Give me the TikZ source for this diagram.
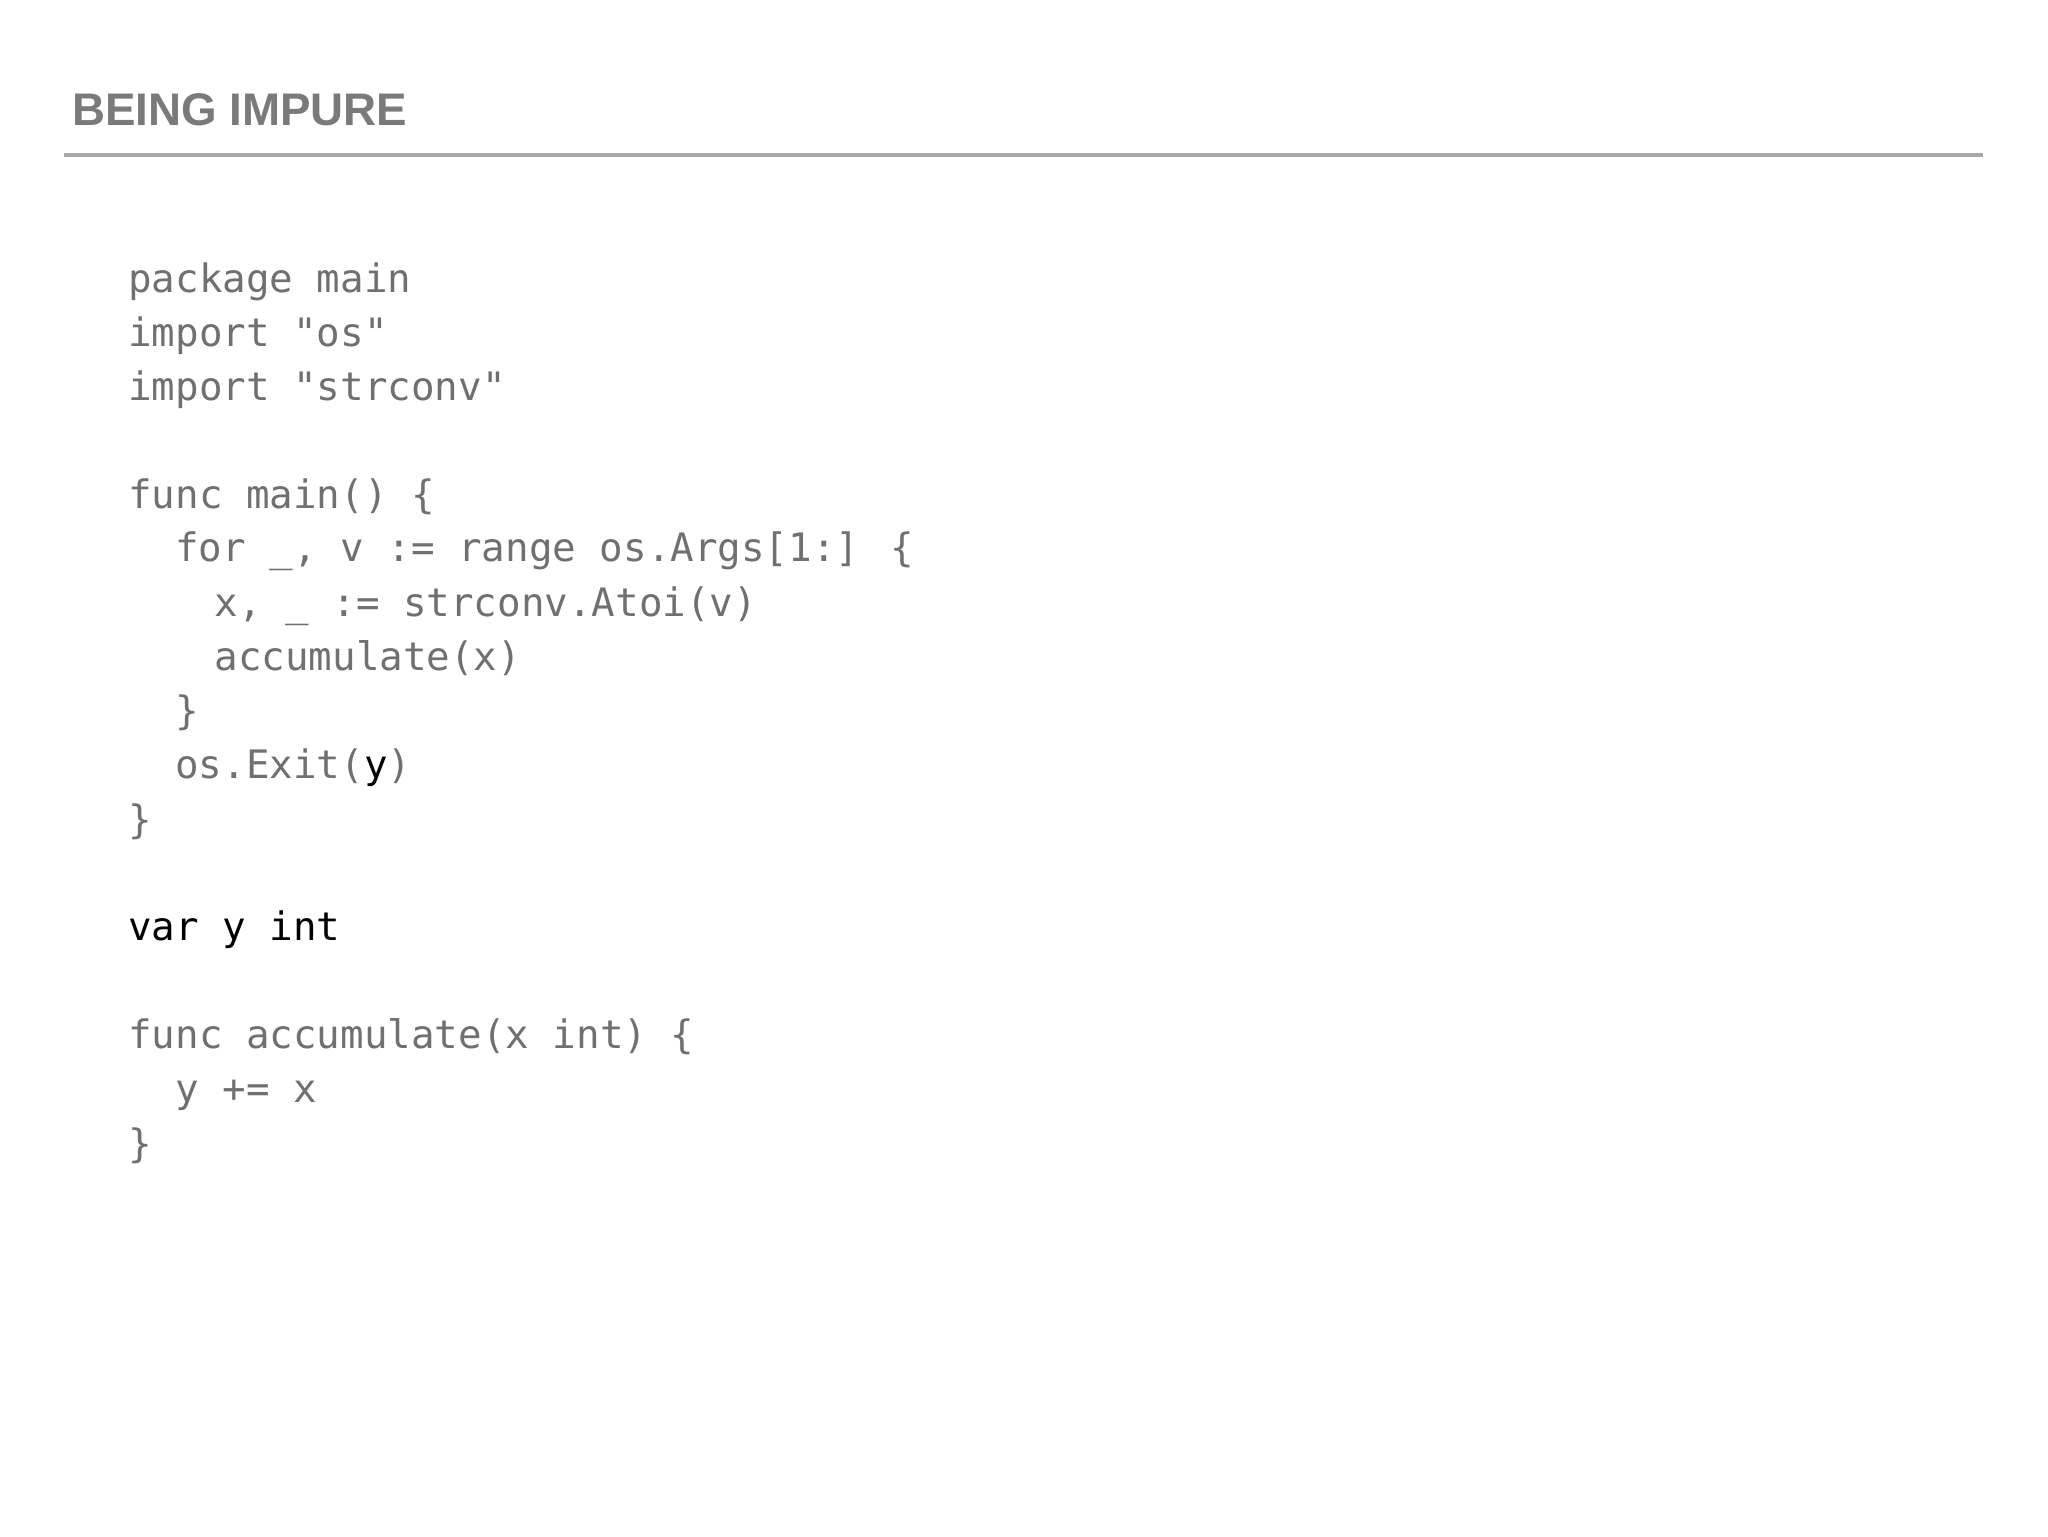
\documentclass[tikz,border=0pt]{standalone}
\usepackage{fontspec}
\setmainfont{Liberation Sans}
\newfontfamily\codefont{DejaVu Sans Mono}
\definecolor{codegray}{HTML}{707070}
\definecolor{titlegray}{HTML}{7A7A7A}
\definecolor{rulegray}{HTML}{A8A8A8}
\begin{document}
\begin{tikzpicture}[x=1pt,y=-1pt,
  code/.style={anchor=base west,inner sep=0pt,text=codegray,font=\codefont\fontsize{30}{36}\selectfont},
  dark/.style={code,text=black}]
\useasboundingbox (0,0) rectangle (1568,1176);
\node[anchor=base west,inner sep=0pt,text=titlegray,font=\fontsize{35}{40}\selectfont\bfseries] (title) at (55,96) {BEING IMPURE};
\coordinate (r1) at (49,119); \coordinate (r2) at (1518,119);
\draw[rulegray,line width=3pt] (r1) -- (r2);
\node[code] (l1) at (98,224) {package main};
\node[code] (l2) at (98,265) {import "os"};
\node[code] (l3) at (98,307) {import "strconv"};
\node[code] (l4) at (98,389) {func main() \{};
\node[code] (l5) at (134,430) {for \_, v := range os.Args[1:] \{};
\node[code] (l6) at (164,472) {x, \_ := strconv.Atoi(v)};
\node[code] (l7) at (164,513) {accumulate(x)};
\node[code] (l8) at (134,555) {\}};
\node[code] (l9) at (134,596) {os.Exit(\textcolor{black}{y})};
\node[code] (l10) at (98,638) {\}};
\node[dark] (l11) at (98,720) {var y int};
\node[code] (l12) at (98,803) {func accumulate(x int) \{};
\node[code] (l13) at (134,844) {y += x};
\node[code] (l14) at (98,886) {\}};
\end{tikzpicture}
\end{document}
